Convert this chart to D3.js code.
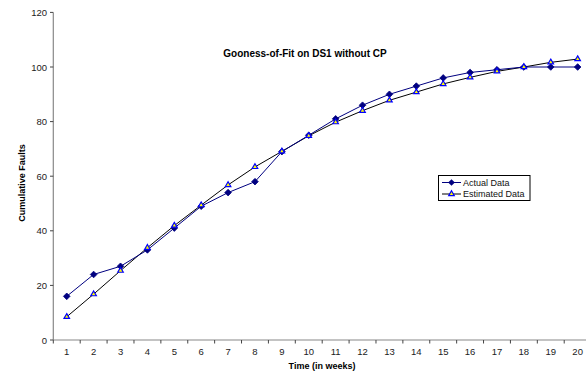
<!DOCTYPE html>
<html><head><meta charset="utf-8">
<script src="https://cdn.jsdelivr.net/npm/d3@7"></script>
<style>body{margin:0;background:#fff}svg{display:block;font-family:"Liberation Sans",Arial,sans-serif}</style>
</head><body>
<script>
const weeks = [1,2,3,4,5,6,7,8,9,10,11,12,13,14,15,16,17,18,19,20];
const actualData = [16,24,27,33,41,49,54,58,69,75,81,86,90,93,96,98,99,100,100,100];
const estimatedData = [8.5,16.8,25.4,33.8,41.9,49.4,56.8,63.4,69.1,74.8,79.8,84,87.8,90.8,93.8,96.2,98.4,100,101.7,102.9];
const yTicks = [0,20,40,60,80,100,120];
const title = "Gooness-of-Fit on DS1 without CP";
const xTitle = "Time (in weeks)";
const yTitle = "Cumulative Faults";
const seriesNames = ["Actual Data","Estimated Data"];

const W=586,H=375;
const svg=d3.select("body").append("svg").attr("width",W).attr("height",H);
const x=d3.scaleBand().domain(weeks).range([53.3,591.1]);
const y=d3.scaleLinear().domain([0,120]).range([340,12.4]);
const cx=d=>x(d)+x.bandwidth()/2;

// axes
const axisColor="#888";
svg.append("line").attr("x1",53.3).attr("x2",53.3).attr("y1",y(120)).attr("y2",y(0)).attr("stroke",axisColor).attr("stroke-width",1.2);
svg.append("line").attr("x1",53.3).attr("x2",W).attr("y1",340).attr("y2",340).attr("stroke",axisColor).attr("stroke-width",1.2);
yTicks.forEach(t=>{
  svg.append("line").attr("x1",50).attr("x2",53.3).attr("y1",y(t)).attr("y2",y(t)).attr("stroke","#444");
  svg.append("text").attr("x",47).attr("y",y(t)+3.5).attr("text-anchor","end").attr("font-size",9.5).attr("fill","#222").text(t);
});
weeks.forEach(w=>{
  svg.append("line").attr("x1",x(w)).attr("x2",x(w)).attr("y1",340).attr("y2",343.5).attr("stroke","#444");
  svg.append("text").attr("x",cx(w)).attr("y",355).attr("text-anchor","middle").attr("font-size",9.5).attr("fill","#222").text(w);
});
svg.append("text").attr("x",322).attr("y",369).attr("text-anchor","middle").attr("font-size",9).attr("font-weight","bold").text(xTitle);
svg.append("text").attr("transform","translate(25,183) rotate(-90)").attr("text-anchor","middle").attr("font-size",9).attr("font-weight","bold").text(yTitle);
svg.append("text").attr("x",305).attr("y",57).attr("text-anchor","middle").attr("font-size",10).attr("font-weight","bold").text(title);

const line=d3.line().x((d,i)=>cx(weeks[i])).y(d=>y(d));
svg.append("path").datum(estimatedData).attr("d",line).attr("fill","none").attr("stroke","#000").attr("stroke-width",1);
svg.append("path").datum(actualData).attr("d",line).attr("fill","none").attr("stroke","#000080").attr("stroke-width",1);

const diamond=d3.symbol().type(d3.symbolDiamond2).size(28);
const tri=d3.symbol().type(d3.symbolTriangle2).size(22);
svg.selectAll(".a").data(actualData).enter().append("path").attr("d",diamond)
  .attr("transform",(d,i)=>`translate(${cx(weeks[i])},${y(d)})`).attr("fill","#000080").attr("stroke","#000080").attr("stroke-width",0.8);
svg.selectAll(".e").data(estimatedData).enter().append("path").attr("d",tri)
  .attr("transform",(d,i)=>`translate(${cx(weeks[i])},${y(d)})`).attr("fill","#ffff00").attr("stroke","#0000ff").attr("stroke-width",1.2);

// legend
const lg=svg.append("g");
lg.append("rect").attr("x",438.5).attr("y",175.5).attr("width",91.5).attr("height",25).attr("fill","#fff").attr("stroke","#000").attr("stroke-width",1);
const ly=[182.5,194];
lg.append("line").attr("x1",442).attr("x2",461).attr("y1",ly[0]).attr("y2",ly[0]).attr("stroke","#000080");
lg.append("path").attr("d",diamond).attr("transform",`translate(451.5,${ly[0]})`).attr("fill","#000080");
lg.append("line").attr("x1",442).attr("x2",461).attr("y1",ly[1]).attr("y2",ly[1]).attr("stroke","#000");
lg.append("path").attr("d",tri).attr("transform",`translate(451.5,${ly[1]})`).attr("fill","#ffff00").attr("stroke","#0000ff").attr("stroke-width",1.2);
seriesNames.forEach((n,i)=>lg.append("text").attr("x",463).attr("y",ly[i]+3.3).attr("font-size",9).attr("fill","#111").text(n));
</script>
</body></html>
